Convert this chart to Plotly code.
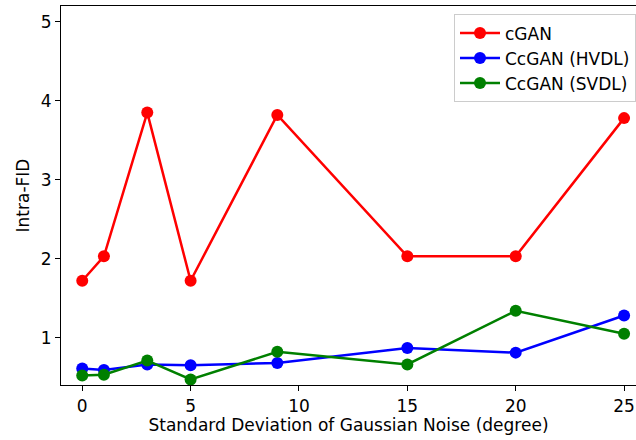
import plotly.graph_objects as go

x_vals = [0, 1, 3, 5, 9, 15, 20, 25]
cgan = [1.72, 2.03, 3.85, 1.72, 3.82, 2.03, 2.03, 3.78]
ccgan_hvdl = [0.61, 0.59, 0.66, 0.65, 0.68, 0.87, 0.81, 1.28]
ccgan_svdl = [0.52, 0.53, 0.71, 0.47, 0.82, 0.66, 1.34, 1.05]

series = [
    ("cGAN", cgan, "#ff0000"),
    ("CcGAN (HVDL)", ccgan_hvdl, "#0000ff"),
    ("CcGAN (SVDL)", ccgan_svdl, "#008000"),
]

fig = go.Figure()
for name, ys, color in series:
    fig.add_trace(go.Scatter(
        x=x_vals, y=ys, name=name, mode="lines+markers", legendgroup=name,
        line=dict(color=color, width=2.5),
        marker=dict(color=color, size=12),
    ))

font = dict(family="DejaVu Sans", size=17, color="black")
axis_common = dict(
    showgrid=False, zeroline=False, showline=True, linecolor="black",
    linewidth=1.2, mirror=True, ticks="outside", ticklen=5, tickwidth=1.2,
    tickcolor="black", tickfont=font,
)
fig.update_layout(
    width=636, height=440,
    margin=dict(l=61, r=0, t=6, b=55),
    paper_bgcolor="white", plot_bgcolor="white",
    font=font,
    xaxis=dict(range=[-0.98, 25.55], tickvals=[0, 5, 10, 15, 20, 25],
               title=dict(text="Standard Deviation of Gaussian Noise (degree)", font=font, standoff=4),
               **axis_common),
    yaxis=dict(range=[0.40, 5.20], tickvals=[1, 2, 3, 4, 5],
               title=dict(text="Intra-FID", font=font, standoff=6),
               **axis_common),
    legend=dict(x=1.0, y=0.978, xanchor="right", yanchor="top",
                bgcolor="white", bordercolor="#cccccc", borderwidth=1,
                font=font, itemwidth=40, tracegroupgap=0),
    showlegend=True,
)
fig.write_html("out.html", config={"displayModeBar": False},
               post_script="document.body.style.margin='0';document.body.style.overflow='hidden';")
